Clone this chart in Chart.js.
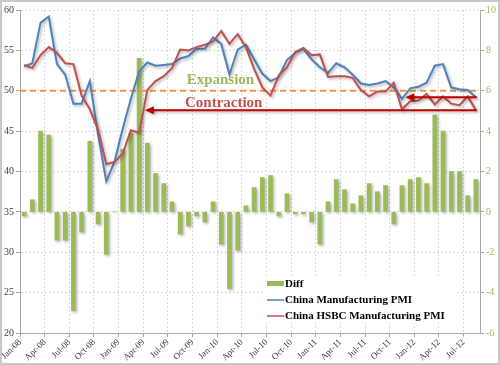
<!DOCTYPE html>
<html>
<head>
<meta charset="utf-8">
<script src="https://cdn.jsdelivr.net/npm/chart.js@4.4.1/dist/chart.umd.min.js"></script>
<style>
  html, body { margin: 0; padding: 0; background: #fff; }
  #chart { display: block; }
</style>
</head>
<body>
<canvas id="chart" width="500" height="365"></canvas>
<script>
// Meses (um ponto por mês, Jan-08 .. Aug-12)
const months = [
    'Jan-08','Feb-08','Mar-08','Apr-08','May-08','Jun-08','Jul-08','Aug-08','Sep-08','Oct-08','Nov-08','Dec-08',
    'Jan-09','Feb-09','Mar-09','Apr-09','May-09','Jun-09','Jul-09','Aug-09','Sep-09','Oct-09','Nov-09','Dec-09',
    'Jan-10','Feb-10','Mar-10','Apr-10','May-10','Jun-10','Jul-10','Aug-10','Sep-10','Oct-10','Nov-10','Dec-10',
    'Jan-11','Feb-11','Mar-11','Apr-11','May-11','Jun-11','Jul-11','Aug-11','Sep-11','Oct-11','Nov-11','Dec-11',
    'Jan-12','Feb-12','Mar-12','Apr-12','May-12','Jun-12','Jul-12','Aug-12'
];

// rótulos do eixo x (a cada 3 meses)
const tickLabels = [
    'Jan-08','Apr-08','Jul-08','Oct-08','Jan-09','Apr-09','Jul-09','Oct-09','Jan-10','Apr-10',
    'Jul-10','Oct-10','Jan-11','Apr-11','Jul-11','Oct-11','Jan-12','Apr-12','Jul-12'
];

const pmiOfficial = [
    53.0, 53.4, 58.4, 59.2, 53.3, 52.0, 48.4, 48.4, 51.2, 44.6, 38.8, 41.2,
    45.3, 49.0, 52.4, 53.5, 53.1, 53.2, 53.3, 54.0, 54.3, 55.2, 55.2, 56.6,
    55.8, 52.0, 55.1, 55.7, 53.9, 52.1, 51.2, 51.7, 53.8, 54.7, 55.2, 53.9,
    52.9, 52.2, 53.4, 52.9, 52.0, 50.9, 50.7, 50.9, 51.2, 50.4, 49.0, 50.3,
    50.5, 51.0, 53.1, 53.3, 50.4, 50.2, 50.1, 49.2
];

const pmiHsbc = [
    53.2, 52.8, 54.4, 55.4, 54.7, 53.4, 53.3, 49.4, 47.7, 45.2, 40.9, 41.2,
    42.2, 45.1, 44.8, 50.1, 51.2, 51.8, 52.8, 55.1, 55.0, 55.4, 55.7, 56.1,
    57.4, 55.8, 57.0, 55.4, 52.7, 50.4, 49.4, 51.9, 52.9, 54.8, 55.3, 54.4,
    54.5, 51.7, 51.8, 51.8, 51.6, 50.1, 49.3, 49.9, 49.9, 51.0, 47.7, 48.7,
    48.8, 49.6, 48.3, 49.3, 48.4, 48.2, 49.3, 47.6
];

const diff = [
    -0.2, 0.6, 4.0, 3.8, -1.4, -1.4, -4.9, -1.0, 3.5, -0.6, -2.1, 0.0,
    3.1, 3.9, 7.6, 3.4, 1.9, 1.4, 0.5, -1.1, -0.7, -0.2, -0.5, 0.5,
    -1.6, -3.8, -1.9, 0.3, 1.2, 1.7, 1.8, -0.2, 0.9, -0.1, -0.1, -0.5,
    -1.6, 0.5, 1.6, 1.1, 0.4, 0.8, 1.4, 1.0, 1.3, -0.6, 1.3, 1.6,
    1.7, 1.4, 4.8, 4.0, 2.0, 2.0, 0.8, 1.6
];

const SERIF = "'Liberation Serif', 'DejaVu Serif', serif";
const GREEN = '#9BBB59';
const BLUE = '#4F81BD';
const RED = '#C0504D';
const GRID = '#d9d9d9';
const AXIS = '#a6a6a6';

// pontos no meio de cada mês
const pts = arr => arr.map((v, i) => ({ x: i + 0.5, y: v }));

function drawThreshold(chart) {
    const { ctx, chartArea } = chart;
    const y = chart.scales.y.getPixelForValue(50);
    ctx.save();
    ctx.strokeStyle = '#F79646';
    ctx.lineWidth = 2;
    ctx.setLineDash([6, 4]);
    ctx.beginPath();
    ctx.moveTo(chartArea.left, y);
    ctx.lineTo(chartArea.right, y);
    ctx.stroke();
    ctx.restore();
}

function drawArrow(ctx, x1, x2, y) {
    ctx.beginPath();
    ctx.moveTo(x1, y);
    ctx.lineTo(x2 + 7, y);
    ctx.stroke();
    ctx.beginPath();
    ctx.moveTo(x2, y);
    ctx.lineTo(x2 + 9, y - 4);
    ctx.lineTo(x2 + 9, y + 4);
    ctx.closePath();
    ctx.fill();
}

const shadowPlugin = {
    id: 'shadow',
    beforeDatasetDraw(chart) {
        const ctx = chart.ctx;
        ctx.save();
        ctx.shadowColor = 'rgba(0,0,0,0.3)';
        ctx.shadowBlur = 3;
        ctx.shadowOffsetX = 1.5;
        ctx.shadowOffsetY = 1.5;
    },
    afterDatasetDraw(chart, args) {
        chart.ctx.restore();
        // linha de 50 fica entre as barras e as linhas
        if (args.index === 0) drawThreshold(chart);
    }
};

const annotationsPlugin = {
    id: 'annotations',
    afterDatasetsDraw(chart) {
        const { ctx } = chart;
        const xs = chart.scales.x, ys = chart.scales.y;

        // setas
        ctx.save();
        ctx.shadowColor = 'rgba(0,0,0,0.3)';
        ctx.shadowBlur = 3;
        ctx.shadowOffsetX = 1.5;
        ctx.shadowOffsetY = 1.5;
        ctx.strokeStyle = '#C00000';
        ctx.fillStyle = '#C00000';
        ctx.lineWidth = 2;
        drawArrow(ctx, xs.getPixelForValue(55.6), xs.getPixelForValue(15.2), ys.getPixelForValue(47.6));
        drawArrow(ctx, xs.getPixelForValue(55.6), xs.getPixelForValue(46.9), ys.getPixelForValue(49.2));
        ctx.restore();

        // textos
        ctx.save();
        ctx.font = 'bold 15px ' + SERIF;
        ctx.textAlign = 'center';
        ctx.textBaseline = 'middle';
        ctx.fillStyle = GREEN;
        ctx.fillText('Expansion', xs.getPixelForValue(24.4), ys.getPixelForValue(51.3));
        ctx.fillStyle = RED;
        ctx.fillText('Contraction', xs.getPixelForValue(24.8), ys.getPixelForValue(48.5));
        ctx.restore();
    },
    afterDraw(chart) {
        const ctx = chart.ctx;
        // legenda
        ctx.save();
        ctx.fillStyle = '#fff';
        ctx.fillRect(265, 277, 192, 46);
        ctx.font = 'bold 11px ' + SERIF;
        ctx.textBaseline = 'middle';
        ctx.fillStyle = GREEN;
        ctx.fillRect(267, 281, 17, 5);
        ctx.lineWidth = 1.5;
        ctx.strokeStyle = BLUE;
        ctx.beginPath(); ctx.moveTo(267, 300); ctx.lineTo(284, 300); ctx.stroke();
        ctx.strokeStyle = RED;
        ctx.beginPath(); ctx.moveTo(267, 316); ctx.lineTo(284, 316); ctx.stroke();
        ctx.fillStyle = '#000';
        ctx.fillText('Diff', 285, 284);
        ctx.fillText('China Manufacturing PMI', 285, 300);
        ctx.fillText('China HSBC Manufacturing PMI', 285, 316);
        // moldura
        ctx.strokeStyle = '#c8c8c8';
        ctx.lineWidth = 2;
        ctx.strokeRect(1, 1, 498, 363);
        ctx.restore();
    }
};

new Chart(document.getElementById('chart'), {
    type: 'bar',
    data: {
        datasets: [
            {
                type: 'bar',
                label: 'Diff',
                data: pts(diff),
                yAxisID: 'y1',
                backgroundColor: GREEN,
                barThickness: 4,
                order: 2
            },
            {
                type: 'line',
                label: 'China Manufacturing PMI',
                data: pts(pmiOfficial),
                yAxisID: 'y',
                borderColor: BLUE,
                borderWidth: 2,
                pointRadius: 0,
                tension: 0,
                fill: false,
                order: 1
            },
            {
                type: 'line',
                label: 'China HSBC Manufacturing PMI',
                data: pts(pmiHsbc),
                yAxisID: 'y',
                borderColor: RED,
                borderWidth: 2,
                pointRadius: 0,
                tension: 0,
                fill: false,
                order: 0
            }
        ]
    },
    options: {
        responsive: false,
        animation: false,
        layout: { padding: { top: 10, left: 0, right: 0, bottom: 0 } },
        plugins: {
            legend: { display: false },
            tooltip: { enabled: false }
        },
        scales: {
            x: {
                type: 'linear',
                min: 0,
                max: 56,
                offset: false,
                afterBuildTicks: s => { s.ticks = tickLabels.map((_, i) => ({ value: i * 3 })); },
                afterFit: s => { s.height = 32; },
                ticks: {
                    autoSkip: false,
                    minRotation: 45,
                    maxRotation: 45,
                    padding: 0,
                    color: '#404040',
                    font: { family: SERIF, size: 9 },
                    callback: v => months[v]
                },
                grid: { color: GRID, offset: false, tickLength: 4, tickColor: AXIS },
                border: { color: AXIS, dash: [2, 2] }
            },
            y: {
                position: 'left',
                min: 20,
                max: 60,
                afterFit: s => { s.width = 20; },
                ticks: {
                    stepSize: 5,
                    padding: 2,
                    color: '#404040',
                    font: { family: SERIF, size: 10 }
                },
                grid: { color: GRID, tickLength: 4, tickColor: AXIS },
                border: { color: AXIS, dash: [2, 2] }
            },
            y1: {
                position: 'right',
                min: -6,
                max: 10,
                afterFit: s => { s.width = 20; },
                ticks: {
                    stepSize: 2,
                    padding: 2,
                    color: GREEN,
                    font: { family: SERIF, size: 10 }
                },
                grid: { drawOnChartArea: false, tickLength: 4, color: AXIS },
                border: { color: AXIS }
            }
        }
    },
    plugins: [shadowPlugin, annotationsPlugin]
});
</script>
</body>
</html>
